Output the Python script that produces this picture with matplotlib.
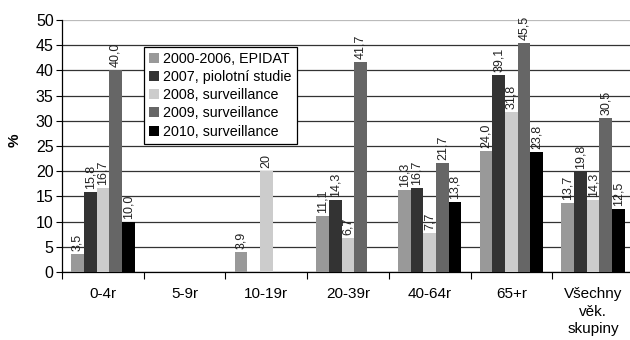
import numpy as np
import matplotlib
matplotlib.use("Agg")
import matplotlib.pyplot as plt

plt.rcParams["font.family"] = ["Liberation Sans", "DejaVu Sans"]

# categories and series (NaN = no bar)
categories = ["0-4r", "5-9r", "10-19r", "20-39r", "40-64r", "65+r", "Všechny\nvěk.\nskupiny"]
series_names = [
    "2000-2006, EPIDAT",
    "2007, piolotní studie",
    "2008, surveillance",
    "2009, surveillance",
    "2010, surveillance",
]
nan = np.nan
epidat = [3.5, nan, 3.9, 11.1, 16.3, 24.0, 13.7]
pilot_2007 = [15.8, nan, nan, 14.3, 16.7, 39.1, 19.8]
surv_2008 = [16.7, nan, 20, 6.7, 7.7, 31.8, 14.3]
surv_2009 = [40.0, nan, nan, 41.7, 21.7, 45.5, 30.5]
surv_2010 = [10.0, nan, nan, nan, 13.8, 23.8, 12.5]
series = [epidat, pilot_2007, surv_2008, surv_2009, surv_2010]
colors = ["#999999", "#333333", "#cccccc", "#666666", "#000000"]


def fmt(v):
    # the single integer value is printed without decimals in the source
    if v == 20:
        return "20"
    return f"{v:.1f}".replace(".", ",")


fig = plt.figure(figsize=(6.3, 3.4), dpi=100)
ax = fig.add_axes([62 / 630, 68 / 340, 572 / 630, 252 / 340])

x = np.arange(len(categories))
width = 0.155
for i, (vals, name, col) in enumerate(zip(series, series_names, colors)):
    pos = x + (i - 2) * width
    vals = np.array(vals, dtype=float)
    ax.bar(pos, np.nan_to_num(vals), width, color=col, label=name, zorder=3, linewidth=0)
    for p, v in zip(pos, vals):
        if np.isnan(v):
            continue
        ax.text(p, v + 0.6, fmt(v), rotation=90, ha="center", va="bottom",
                fontsize=9, color="#222222", zorder=4)

ax.set_xlim(-0.5, len(categories) - 0.5)
ax.set_ylim(0, 50)
ax.set_yticks(range(0, 51, 5))
ax.tick_params(axis="y", labelsize=11.5, length=4, width=0.8, pad=2)
ax.set_xticks(x)
ax.set_xticklabels(categories, fontsize=11, linespacing=1.32)
ax.set_xticks(np.arange(len(categories) + 1) - 0.5, minor=True)
ax.tick_params(axis="x", which="major", length=0, pad=11)
ax.tick_params(axis="x", which="minor", length=5, width=0.8)

ax.yaxis.grid(True, color="#333333", linewidth=0.9, zorder=0)
ax.set_axisbelow(True)
ax.yaxis.get_gridlines()[-1].set_color("#bbbbbb")
for s in ["top", "right"]:
    ax.spines[s].set_visible(False)
ax.spines["left"].set_linewidth(0.9)
ax.spines["bottom"].set_linewidth(0.9)

ax.set_ylabel("%", fontsize=11, fontweight="bold")
ax.yaxis.set_label_coords(-0.07, 0.524)

leg = ax.legend(loc="upper left", bbox_to_anchor=(0.143, 0.893), borderaxespad=0,
                fontsize=10.3, frameon=True, fancybox=False, handlelength=0.7,
                handleheight=0.7, handletextpad=0.3, labelspacing=0.29,
                borderpad=0.35)
leg.get_frame().set_edgecolor("black")
leg.get_frame().set_linewidth(0.9)
leg.get_frame().set_alpha(1)
leg.set_zorder(5)

fig.savefig("out.png", dpi=100)
